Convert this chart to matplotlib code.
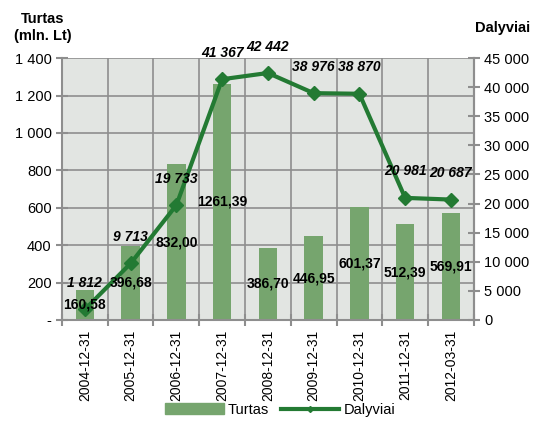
import matplotlib

matplotlib.use('Agg')
import matplotlib.pyplot as plt
from matplotlib.ticker import FuncFormatter, MultipleLocator
from matplotlib.lines import Line2D
from matplotlib.patches import Patch
import numpy as np

dates = ['2004-12-31', '2005-12-31', '2006-12-31', '2007-12-31', '2008-12-31',
         '2009-12-31', '2010-12-31', '2011-12-31', '2012-03-31']
turtas = [160.58, 396.68, 832.00, 1261.39, 386.70, 446.95, 601.37, 512.39, 569.91]
dalyviai = [1812, 9713, 19733, 41367, 42442, 38976, 38870, 20981, 20687]

bar_col = '#76A56E'
line_col = '#237A33'
grid_col = '#8E8E8E'
bg_col = '#E2E5E2'

plt.rcParams['font.family'] = ['Liberation Sans', 'DejaVu Sans']
plt.rcParams['font.size'] = 9.5


def space_thousands(v, _):
    if abs(v) < 1e-9:
        return '-'
    return f'{v:,.0f}'.replace(',', ' ')


def space_thousands_r(v, _):
    return f'{v:,.0f}'.replace(',', ' ')


fig = plt.figure(figsize=(5.39, 4.21), dpi=100)
ax = fig.add_axes([0.115, 0.240, 0.764, 0.622])
ax2 = ax.twinx()

x = np.arange(len(dates))
bars = ax.bar(x, turtas, 0.4, color=bar_col, zorder=2)
ax.set_facecolor(bg_col)
ax.set_xlim(-0.5, len(dates) - 0.5)
ax.set_ylim(0, 1400)
ax.yaxis.set_major_locator(MultipleLocator(200))
ax.yaxis.set_major_formatter(FuncFormatter(space_thousands))

# grid at category boundaries, labels at centres
ax.set_xticks(np.arange(-0.5, len(dates)), labels=[''] * (len(dates) + 1))
ax.set_xticks(x, labels=dates, minor=True, rotation=90)
ax.tick_params(axis='x', which='minor', length=0, pad=7, labelsize=10)
ax.tick_params(axis='x', which='major', direction='inout', length=8, width=1.5, color=grid_col)
ax.tick_params(axis='y', direction='inout', length=8, width=1.5, color=grid_col, labelsize=10.5)
ax.grid(True, color=grid_col, linewidth=1.2, zorder=0)
ax.set_axisbelow(True)

for s in ['top']:
    ax.spines[s].set_visible(False)
    ax2.spines[s].set_visible(False)
for s in ['left', 'bottom', 'right']:
    ax.spines[s].set_color(grid_col)
    ax.spines[s].set_linewidth(1.5)
ax2.spines['right'].set_color(grid_col)
ax2.spines['right'].set_linewidth(1.5)
ax2.spines['left'].set_visible(False)
ax2.spines['bottom'].set_visible(False)

ax2.plot(x, dalyviai, color=line_col, linewidth=3, marker='D', markersize=7, zorder=4)
ax2.set_ylim(0, 45000)
ax2.yaxis.set_major_locator(MultipleLocator(5000))
ax2.yaxis.set_major_formatter(FuncFormatter(space_thousands_r))
ax2.tick_params(axis='y', direction='inout', length=8, width=1.5, color=grid_col, labelsize=10.5)

# bar labels drawn on top of the line
for b, v in zip(bars, turtas):
    ax2.text(b.get_x() + b.get_width() / 2, v / 2, f'{v:.2f}'.replace('.', ','),
             transform=ax.transData, ha='center', va='center',
             fontweight='bold', fontsize=10, zorder=6)

for xi, v in zip(x, dalyviai):
    ax2.annotate(space_thousands_r(v, None), xy=(xi, v), xytext=(0, 19),
                 textcoords='offset points', ha='center', va='center',
                 fontweight='bold', fontstyle='italic', fontsize=10, zorder=6)

fig.text(0.08, 0.955, 'Turtas', ha='center', va='center', fontweight='bold', fontsize=10.5)
fig.text(0.08, 0.915, '(mln. Lt)', ha='center', va='center', fontweight='bold', fontsize=10.5)
fig.text(0.933, 0.933, 'Dalyviai', ha='center', va='center', fontweight='bold', fontsize=10.5)

handles = [Patch(color=bar_col, label='Turtas'),
           Line2D([0], [0], color=line_col, linewidth=3, marker='D', markersize=3, label='Dalyviai')]
fig.legend(handles=handles, loc='center', bbox_to_anchor=(0.52, 0.027), ncol=2,
           frameon=False, handlelength=4.0, handletextpad=0.3, columnspacing=0.8,
           fontsize=10.5)

fig.savefig('out.png', dpi=100)
